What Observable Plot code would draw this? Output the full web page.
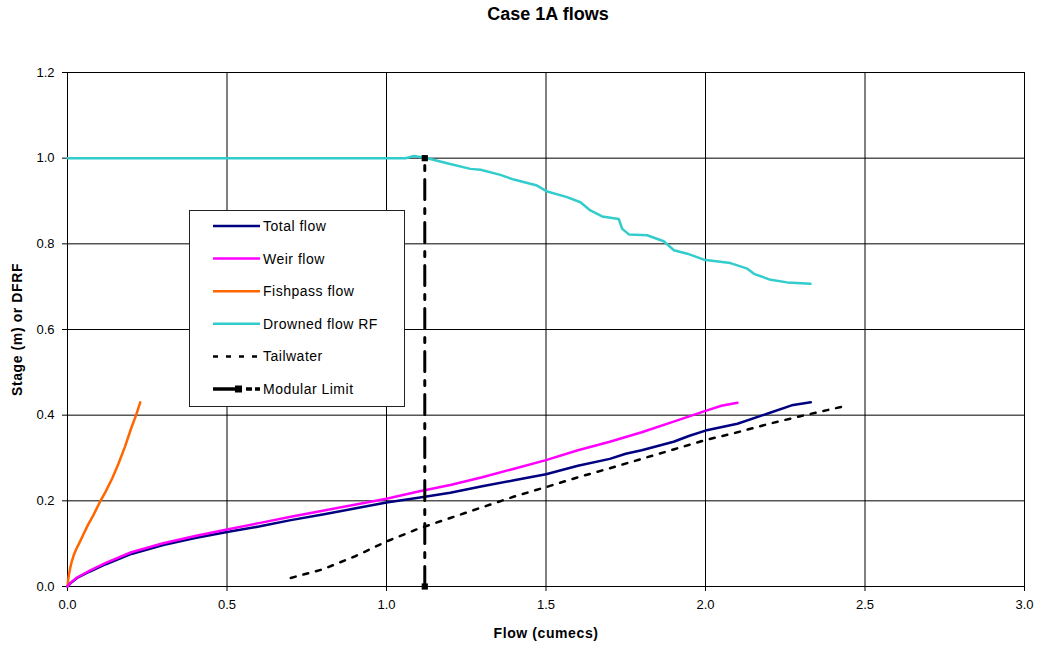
<!DOCTYPE html>
<html>
<head>
<meta charset="utf-8">
<script src="https://cdn.jsdelivr.net/npm/d3@7"></script>
<script src="https://cdn.jsdelivr.net/npm/@observablehq/plot@0.6"></script>
<style>
  body { margin: 0; background: #fff; font-family: "Liberation Sans", Arial, sans-serif; }
  #wrap { position: relative; width: 1040px; height: 650px; }
  #title { height: 30px; line-height: 29px; text-align: center; padding-left: 56px; width: 984px;
           font-weight: bold; font-size: 18px; color: #000; }
  #legend { position: absolute; left: 189px; top: 210px; width: 214px; height: 195px;
            border: 1px solid #222; background: #fff; }
</style>
</head>
<body>
<div id="wrap">
  <div id="title">Case 1A flows</div>
  <div id="chart"></div>
  <div id="legend"></div>
</div>
<script>
// ---- data ----
const xTicks = [0, 0.5, 1.0, 1.5, 2.0, 2.5, 3.0];
const yTicks = [0, 0.2, 0.4, 0.6, 0.8, 1.0, 1.2];

const totalFlow = [
  [0,0],[0.01,0.008],[0.03,0.02],[0.07,0.035],[0.12,0.052],[0.2,0.076],[0.3,0.097],
  [0.4,0.113],[0.5,0.127],[0.6,0.14],[0.7,0.155],[0.8,0.168],[0.9,0.182],[1.0,0.196],
  [1.1,0.207],[1.2,0.219],[1.3,0.234],[1.4,0.248],[1.5,0.262],[1.6,0.282],[1.7,0.298],
  [1.75,0.31],[1.8,0.318],[1.9,0.338],[1.95,0.352],[2.0,0.364],[2.1,0.38],[2.2,0.405],[2.27,0.423],[2.33,0.43]
];
const weirFlow = [
  [0,0],[0.01,0.009],[0.03,0.021],[0.07,0.037],[0.12,0.055],[0.2,0.08],[0.3,0.101],
  [0.4,0.118],[0.5,0.133],[0.6,0.148],[0.7,0.163],[0.8,0.177],[0.9,0.191],[1.0,0.205],
  [1.1,0.222],[1.2,0.237],[1.3,0.255],[1.4,0.275],[1.5,0.295],[1.6,0.318],[1.7,0.338],
  [1.8,0.36],[1.9,0.385],[2.0,0.41],[2.05,0.422],[2.1,0.429]
];
const fishpassFlow = [
  [0,0],[0.002,0.015],[0.005,0.03],[0.009,0.045],[0.014,0.06],[0.02,0.074],[0.028,0.088],
  [0.038,0.103],[0.05,0.122],[0.065,0.145],[0.08,0.165],[0.1,0.195],[0.12,0.222],
  [0.14,0.252],[0.16,0.287],[0.18,0.326],[0.2,0.37],[0.215,0.40],[0.228,0.43]
];
const drownedRF = [
  [0,1.0],[0.98,1.0],[1.06,1.0],[1.086,1.005],[1.128,1.0],[1.19,0.988],[1.263,0.975],
  [1.295,0.973],[1.357,0.961],[1.399,0.95],[1.472,0.936],[1.504,0.922],[1.566,0.909],
  [1.608,0.897],[1.639,0.878],[1.676,0.864],[1.728,0.858],[1.739,0.835],[1.76,0.822],
  [1.817,0.82],[1.869,0.806],[1.901,0.785],[1.943,0.777],[1.995,0.763],[2.078,0.755],
  [2.131,0.742],[2.152,0.73],[2.204,0.716],[2.256,0.71],[2.329,0.707]
];
const tailwater = [
  [0.70,0.02],[0.8,0.04],[0.9,0.07],[1.0,0.105],[1.1,0.135],[1.2,0.16],[1.3,0.185],
  [1.4,0.21],[1.5,0.232],[1.6,0.255],[1.7,0.276],[1.8,0.298],[1.9,0.32],[2.0,0.342],
  [2.1,0.36],[2.2,0.38],[2.3,0.398],[2.43,0.42]
];
const modularLimit = [[1.12,0.0],[1.12,1.0]];

const seriesNames = ["Total flow","Weir flow","Fishpass flow","Drowned flow RF","Tailwater","Modular Limit"];
const seriesColors = ["#000080","#FF00FF","#FF6600","#33CCCC","#000000","#000000"];

// ---- chart ----
const fmt = d => d.toFixed(1);
const chart = Plot.plot({
  width: 1040,
  height: 620,
  marginTop: 42,
  marginBottom: 64,
  marginLeft: 67,
  marginRight: 16,
  style: { fontFamily: "'Liberation Sans', Arial, sans-serif", fontSize: "13px", color: "#000", background: "#fff" },
  x: { domain: [0, 3], label: null },
  y: { domain: [0, 1.2], label: null },
  marks: [
    Plot.gridX(xTicks, { stroke: "#000", strokeOpacity: 1, strokeWidth: 1 }),
    Plot.gridY(yTicks, { stroke: "#000", strokeOpacity: 1, strokeWidth: 1 }),
    Plot.ruleX([0], { stroke: "#000", strokeWidth: 1 }),
    Plot.ruleY([0], { stroke: "#000", strokeWidth: 1 }),
    Plot.axisX({ ticks: xTicks, tickFormat: fmt, tickSize: 5, tickPadding: 8, fontSize: 13, label: null }),
    Plot.axisY({ ticks: yTicks, tickFormat: fmt, tickSize: 5, tickPadding: 8, fontSize: 13, label: null }),
    Plot.line(tailwater, { x: d => d[0], y: d => d[1], stroke: seriesColors[4], strokeWidth: 2.5, strokeDasharray: "5,8" }),
    Plot.line(fishpassFlow, { x: d => d[0], y: d => d[1], stroke: seriesColors[2], strokeWidth: 2.5 }),
    Plot.line(totalFlow, { x: d => d[0], y: d => d[1], stroke: seriesColors[0], strokeWidth: 2.5 }),
    Plot.line(weirFlow, { x: d => d[0], y: d => d[1], stroke: seriesColors[1], strokeWidth: 2.5 }),
    Plot.line(drownedRF, { x: d => d[0], y: d => d[1], stroke: seriesColors[3], strokeWidth: 2.5 }),
    Plot.line(modularLimit, { x: d => d[0], y: d => d[1], stroke: "#000", strokeWidth: 3, strokeDasharray: "20,9,5,9" }),
    Plot.dot(modularLimit, { x: d => d[0], y: d => d[1], symbol: "square", r: 3.5, fill: "#000", stroke: "none" }),
    Plot.text(["Flow (cumecs)"], { frameAnchor: "bottom", dy: 51, fontWeight: "bold", fontSize: 14 }),
    Plot.text(["Stage (m) or DFRF"], { frameAnchor: "left", textAnchor: "middle", lineAnchor: "middle", dx: -50, rotate: -90, fontWeight: "bold", fontSize: 14 })
  ]
});
document.getElementById("chart").appendChild(chart);
const sel = d3.select(chart);
sel.selectAll("text").filter(function() { return this.textContent === "Flow (cumecs)" || this.textContent === "Stage (m) or DFRF"; })
  .style("letter-spacing", "0.6px");
sel.selectAll('g[aria-label="x-axis tick label"], g[aria-label="y-axis tick label"]')
  .attr("font-size", 13).style("font-size", "13px");

// ---- legend ----
const lg = d3.select("#legend").append("svg").attr("width", 214).attr("height", 195)
  .style("font-family", "'Liberation Sans', Arial, sans-serif");
const rowY = i => 15 + i * 32.6;
seriesNames.forEach((name, i) => {
  const g = lg.append("g").attr("transform", `translate(0,${rowY(i)})`);
  if (i < 4) {
    g.append("line").attr("x1", 23).attr("x2", 70).attr("stroke", seriesColors[i]).attr("stroke-width", 2.5);
  } else if (i === 4) {
    g.append("line").attr("x1", 23).attr("x2", 70).attr("stroke", "#000").attr("stroke-width", 2.5).attr("stroke-dasharray", "5,8");
  } else {
    g.append("line").attr("x1", 23).attr("x2", 49).attr("stroke", "#000").attr("stroke-width", 3.5);
    g.append("rect").attr("x", 45).attr("y", -3.5).attr("width", 7).attr("height", 7).attr("fill", "#000");
    g.append("line").attr("x1", 56).attr("x2", 70).attr("stroke", "#000").attr("stroke-width", 3.5).attr("stroke-dasharray", "6,3");
  }
  g.append("text").attr("x", 73).attr("dy", "0.35em").attr("font-size", 14).style("letter-spacing", "0.5px")
    .attr("fill", "#000").text(name);
});
</script>
</body>
</html>
